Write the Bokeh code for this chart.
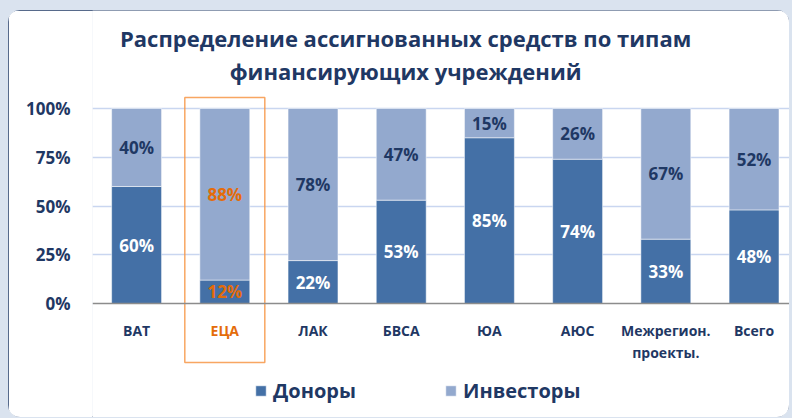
from bokeh.plotting import figure
from bokeh.layouts import column
from bokeh.models import (ColumnDataSource, Range1d, FixedTicker, NumeralTickFormatter,
                          Span, Legend)
from bokeh.core.properties import value
from bokeh.embed import file_html
from bokeh.resources import INLINE

# ---- data ----
categories = ["ВАТ", "ЕЦА", "ЛАК", "БВСА", "ЮА", "АЮС", "Межрегион.\nпроекты.", "Всего"]
donors = [60, 12, 22, 53, 85, 74, 33, 48]
investors = [40, 88, 78, 47, 15, 26, 67, 52]
series_names = ["Доноры", "Инвесторы"]
y_ticks = [0, 0.25, 0.5, 0.75, 1.0]
title_lines = ["Распределение ассигнованных средств по типам", "финансирующих учреждений"]
highlight = "ЕЦА"

# ---- styles ----
FONT = "Open Sans"
NAVY = "#1F3864"
DARK = "#4470A6"
LIGHT = "#93A9CE"
ORANGE = "#E46C0A"

n = len(categories)
xs = list(range(n))
hi = categories.index(highlight)

src = ColumnDataSource(dict(
    x=xs,
    donors=[d / 100 for d in donors],
    investors=[v / 100 for v in investors],
))

p = figure(width=781, height=407, output_backend="svg", toolbar_location=None,
           x_axis_location=None, x_range=Range1d(-0.5, 7.402),
           y_range=Range1d(-0.5846, 1.5026),
           min_border_left=84, min_border_right=0, min_border_top=0, min_border_bottom=0)
p.outline_line_color = None
p.background_fill_color = "white"
p.border_fill_color = "white"
p.styles = {"outline": "1px solid #1F3864", "outline-offset": "-1px",
            "border-radius": "12px", "overflow": "hidden"}

# grid
p.xgrid.visible = False
p.ygrid.ticker = FixedTicker(ticks=[t for t in y_ticks if t > 0])
p.ygrid.grid_line_color = "#C9D6F0"
p.ygrid.grid_line_width = 1.5

# y axis
yax = p.yaxis[0]
yax.ticker = FixedTicker(ticks=y_ticks)
yax.formatter = NumeralTickFormatter(format="0%")
yax.axis_line_color = None
yax.major_tick_line_color = None
yax.minor_tick_line_color = None
yax.major_tick_out = 0
yax.major_label_standoff = 22
yax.major_label_text_font = FONT
yax.major_label_text_font_style = "bold"
yax.major_label_text_font_size = "17px"
yax.major_label_text_color = NAVY

# bars
renderers = p.vbar_stack(["donors", "investors"], x="x", width=0.566, source=src,
                         color=[DARK, LIGHT], line_color="white", line_alpha=0.5,
                         line_width=1)

# baseline
p.add_layout(Span(location=0, dimension="width", line_color="#8C8C8C", line_width=1.5))

# value labels
d_mid = [d / 200 for d in donors]
i_mid = [d / 100 + v / 200 for d, v in zip(donors, investors)]
lab_x = xs + xs
lab_y = d_mid + i_mid
lab_t = [f"{d}%" for d in donors] + [f"{v}%" for v in investors]
lab_c = [(ORANGE if k == hi else "white") for k in xs] + [(ORANGE if k == hi else NAVY) for k in xs]
p.text(x=lab_x, y=lab_y, text=lab_t, text_color=lab_c, text_font=value(FONT),
       text_font_style="bold", text_font_size="17px", text_align="center",
       text_baseline="middle")

# category labels
cat_c = [ORANGE if k == hi else NAVY for k in xs]
p.text(x=xs, y=[-0.09] * n, text=categories, text_color=cat_c, text_font=value(FONT),
       text_font_style="bold", text_font_size="14px", text_align="center",
       text_baseline="top", text_line_height=1.18)

# highlight box around ЕЦА
p.quad(left=[hi - 0.4535], right=[hi + 0.4535], top=[1.056], bottom=[-0.3026],
       fill_color=None, line_color="#F79646", line_alpha=0.85, line_width=1.5)

# title
p.text(x=[3.05, 3.05], y=[1.3637, 1.1946], text=title_lines, text_color=NAVY,
       text_font=value(FONT), text_font_style="bold", text_font_size="22px",
       text_align="center", text_baseline="middle")

# legend
legend = Legend(items=[(series_names[0], [renderers[0]]), (series_names[1], [renderers[1]])],
                orientation="horizontal", location=(162, 13))
legend.glyph_width = 13
legend.glyph_height = 13
legend.label_standoff = 6
legend.spacing = 88
legend.padding = 0
legend.margin = 0
legend.border_line_color = None
legend.background_fill_alpha = 0
legend.label_text_font = FONT
legend.label_text_font_style = "bold"
legend.label_text_font_size = "20px"
legend.label_text_color = NAVY
p.add_layout(legend, "center")

page = column(p, styles={"background-color": "#DAE3EF", "padding": "10px 3px 1px 8px"})

open("out.html", "w").write(file_html(page, INLINE))
